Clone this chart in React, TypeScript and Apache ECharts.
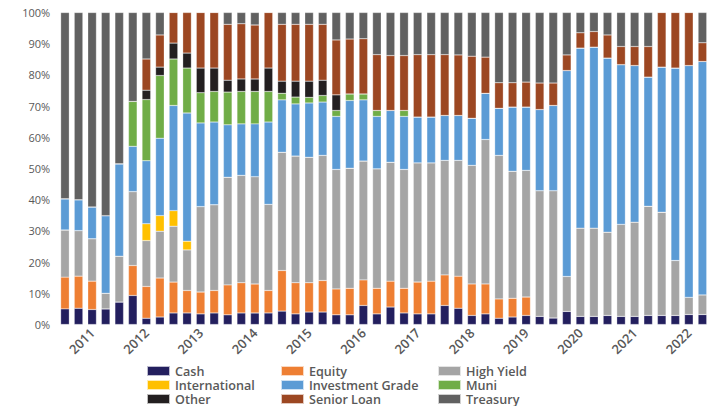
import React, { useEffect, useRef } from "react";
import * as echarts from "echarts";

const years = ["2011", "2012", "2013", "2014", "2015", "2016", "2017", "2018", "2019", "2020", "2021", "2022"];
const quarters = ["Q1", "Q2", "Q3", "Q4"];
const categories: string[] = [];
years.forEach((y) => quarters.forEach((q) => categories.push(y + " " + q)));

const yTicks = [0, 10, 20, 30, 40, 50, 60, 70, 80, 90, 100];

const cash = [5.0, 5.2, 4.8, 5.0, 7.2, 9.3, 2.0, 2.4, 3.7, 3.7, 3.4, 3.7, 3.1, 3.7, 3.7, 3.7, 4.3, 3.4, 4.0, 4.0, 3.1, 3.1, 6.1, 3.4, 5.6, 3.7, 3.4, 3.4, 6.1, 5.2, 2.9, 3.4, 2.0, 2.4, 2.9, 2.6, 2.1, 4.2, 2.6, 2.6, 2.9, 2.6, 2.6, 2.9, 2.9, 2.9, 3.2, 3.2];
const equity = [10.2, 10.3, 9.1, 0, 0, 9.6, 10.2, 12.5, 9.9, 7.2, 7.0, 7.2, 9.6, 9.7, 9.3, 7.2, 13.0, 10.0, 9.4, 10.1, 8.3, 8.5, 8.2, 8.2, 8.3, 7.9, 10.2, 10.5, 9.8, 10.3, 10.1, 9.6, 6.2, 6.0, 5.9, 0, 0, 0, 0, 0, 0, 0, 0, 0, 0, 0, 0, 0];
const highYield = [15.1, 14.6, 13.6, 5.0, 14.7, 23.7, 14.7, 15.0, 17.9, 13.0, 27.4, 27.5, 34.5, 34.4, 34.4, 27.6, 37.9, 40.6, 40.2, 40.1, 38.3, 38.5, 38.1, 38.3, 38.1, 38.1, 38.2, 37.9, 36.7, 37.1, 38.0, 46.3, 46.0, 40.7, 40.6, 40.3, 40.8, 11.2, 28.3, 28.3, 26.7, 29.5, 30.2, 35.0, 33.1, 17.6, 5.5, 6.3];
const international = [0, 0, 0, 0, 0, 0, 5.4, 5.0, 5.0, 2.8, 0, 0, 0, 0, 0, 0, 0, 0, 0, 0, 0, 0, 0, 0, 0, 0, 0, 0, 0, 0, 0, 0, 0, 0, 0, 0, 0, 0, 0, 0, 0, 0, 0, 0, 0, 0, 0, 0];
const investmentGrade = [10.0, 9.9, 10.2, 24.9, 29.6, 14.5, 20.2, 24.8, 33.7, 41.1, 26.8, 26.5, 16.8, 16.5, 16.9, 26.4, 16.8, 16.7, 17.4, 17.1, 17.0, 21.7, 19.6, 16.8, 16.6, 17.0, 14.7, 14.7, 14.4, 14.4, 15.1, 14.8, 15.1, 20.6, 20.3, 26.0, 27.3, 66.0, 57.7, 58.0, 55.8, 51.2, 50.2, 41.4, 46.5, 61.7, 74.3, 74.8];
const muni = [0, 0, 0, 0, 0, 14.4, 19.6, 20.1, 14.9, 14.4, 9.7, 9.8, 10.5, 10.4, 10.4, 9.8, 2.1, 2.2, 1.8, 2.1, 1.9, 2.1, 1.9, 1.9, 0, 1.9, 0, 0, 0, 0, 0, 0, 0, 0, 0, 0, 0, 0, 0, 0, 0, 0, 0, 0, 0, 0, 0, 0];
const other = [0, 0, 0, 0, 0, 0, 3.0, 2.7, 5.1, 4.8, 7.9, 7.5, 3.8, 4.0, 4.0, 7.5, 3.9, 5.1, 5.2, 4.9, 5.0, 0, 0, 0, 0, 0, 0, 0, 0, 0, 0, 0, 0, 0, 0, 0, 0, 0, 0, 0, 0, 0, 0, 0, 0, 0, 0, 0];
const seniorLoan = [0, 0, 0, 0, 0, 0, 10.0, 10.3, 9.8, 13.0, 17.8, 17.8, 17.9, 17.7, 17.3, 17.8, 18.2, 18.2, 18.2, 17.9, 17.6, 17.6, 17.7, 17.9, 17.6, 17.6, 20.0, 20.0, 19.5, 19.4, 19.9, 11.6, 8.2, 7.8, 8.0, 8.5, 7.2, 5.0, 4.9, 5.0, 7.4, 5.8, 6.1, 9.8, 17.5, 17.8, 17.0, 6.0];
const treasury = [59.7, 60.0, 62.3, 65.1, 48.5, 28.5, 14.9, 7.2, 0, 0, 0, 0, 3.8, 3.6, 4.0, 0, 3.8, 3.8, 3.8, 3.8, 8.8, 8.5, 8.4, 13.5, 13.8, 13.8, 13.5, 13.5, 13.5, 13.6, 14.0, 14.3, 22.5, 22.5, 22.3, 22.6, 22.6, 13.6, 6.5, 6.1, 7.2, 10.9, 10.9, 10.9, 0, 0, 0, 9.7];

const seriesNames = ["Cash", "Equity", "High Yield", "International", "Investment Grade", "Muni", "Other", "Senior Loan", "Treasury"];
const seriesValues = [cash, equity, highYield, international, investmentGrade, muni, other, seniorLoan, treasury];
const seriesColors = ["#231f5e", "#ee7f33", "#a5a5a5", "#ffc000", "#5b9bd5", "#70ad47", "#231f20", "#9c4722", "#616161"];

const legendColumns = [
  ["Cash", "International", "Other"],
  ["Equity", "Investment Grade", "Senior Loan"],
  ["High Yield", "Muni", "Treasury"],
];
const legendLefts = [146, 280, 437];

export default function App() {
  const ref = useRef<HTMLDivElement>(null);
  useEffect(() => {
    document.body.style.margin = "0";
    if (!ref.current) return;
    const chart = echarts.init(ref.current, undefined, { renderer: "svg" });
    const totals = categories.map((_, i) => seriesValues.reduce((s, arr) => s + arr[i], 0));
    const textColor = "#595959";
    const font = "'Open Sans', 'Noto Sans', sans-serif";
    chart.setOption({
      animation: false,
      textStyle: { fontFamily: font },
      grid: { left: 58.2, right: 4.8, top: 12.5, bottom: 81.5 },
      legend: legendColumns.map((col, k) => ({
        orient: "vertical",
        left: legendLefts[k],
        top: 364.5,
        height: 42,
        padding: 0,
        data: col,
        itemWidth: 23,
        itemHeight: 10,
        itemGap: 1,
        icon: "rect",
        selectedMode: false,
        textStyle: { color: textColor, fontSize: 12.6, fontWeight: 600, fontFamily: font, lineHeight: 12.5 },
      })),
      xAxis: {
        type: "category",
        data: categories,
        axisLine: { show: false },
        axisTick: { show: false },
        axisLabel: {
          interval: (index: number) => index % 4 === 2,
          formatter: (v: string) => v.slice(0, 4),
          rotate: 45,
          margin: 6,
          color: textColor,
          fontSize: 13,
          fontWeight: 600,
          fontFamily: font,
        },
      },
      yAxis: {
        type: "value",
        min: yTicks[0],
        max: yTicks[yTicks.length - 1],
        interval: 10,
        splitLine: { show: false },
        axisLine: { show: false },
        axisTick: { show: false },
        axisLabel: {
          formatter: "{value}%",
          color: textColor,
          fontSize: 11,
          margin: 8,
          fontFamily: font,
        },
      },
      series: seriesNames.map((name, k) => ({
        name,
        type: "bar",
        stack: "total",
        barWidth: 8.6,
        itemStyle: { color: seriesColors[k], borderColor: "rgba(255,255,255,0.7)", borderWidth: 0.4 },
        data: seriesValues[k].map((v, i) => (v / totals[i]) * 100),
      })),
    });
    return () => chart.dispose();
  }, []);
  return <div ref={ref} style={{ width: 714, height: 406 }} />;
}
